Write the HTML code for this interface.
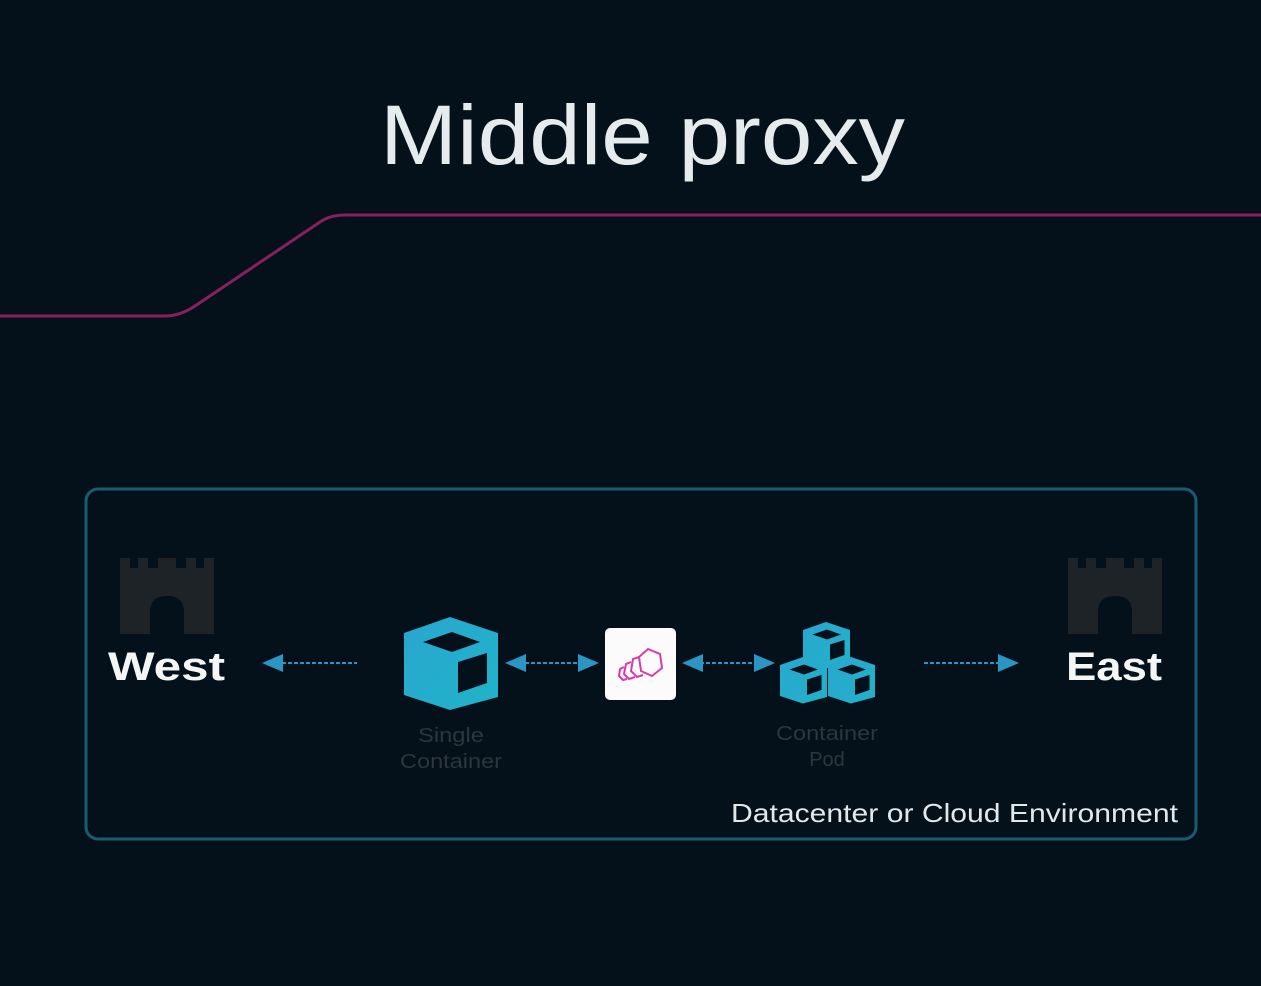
<!DOCTYPE html>
<html><head><meta charset="utf-8"><style>
html,body{margin:0;padding:0;background:#04111a;}
svg{display:block;}
</style></head><body>
<svg width="1261" height="986" viewBox="0 0 1261 986" xmlns="http://www.w3.org/2000/svg">
<defs>
<linearGradient id="cg" x1="0" y1="0" x2="1" y2="1"><stop offset="0" stop-color="#2aa6d0"/><stop offset="1" stop-color="#1fb3c8"/></linearGradient>
<g id="cube">
<path fill-rule="evenodd" fill="url(#cg)" d="M46,0 L94,16 L94,80 L46,93 L0,78 L0,16 Z M19,25 L48,15 L76,25 L48,35 Z M54,45 L83,36 L83,66 L54,76 Z"/>
</g>
<g id="castle" fill="#1d2327">
<path d="M0,0 h10 v10 h8 v-10 h10 v10 h10 v-10 h18 v10 h10 v-10 h10 v10 h8 v-10 h10 v76 h-30 v-22 q0,-16 -17,-16 q-17,0 -17,16 v22 h-30 Z"/>
</g>
</defs>
<rect width="1261" height="986" fill="#04111a"/>
<text x="380" y="164" textLength="525" lengthAdjust="spacingAndGlyphs" font-family="Liberation Sans, sans-serif" font-size="84" fill="#e6ecee">Middle proxy</text>
<path d="M0,316 L165,316 Q180,316 195,306 L320,222 Q330,215 345,215 L1261,215" fill="none" stroke="#8a1f5e" stroke-width="3"/>
<rect x="86" y="489" width="1110" height="350" rx="12" fill="none" stroke="#1b5b70" stroke-width="3"/>
<use href="#castle" x="120" y="558"/>
<use href="#castle" x="1068" y="558"/>
<text x="108" y="680" textLength="117" lengthAdjust="spacingAndGlyphs" font-family="Liberation Sans, sans-serif" font-weight="bold" font-size="40" fill="#f4f6f6">West</text>
<text x="1066" y="680" textLength="96" lengthAdjust="spacingAndGlyphs" font-family="Liberation Sans, sans-serif" font-weight="bold" font-size="40" fill="#f4f6f6">East</text>
<g stroke="#2b95c4" stroke-width="2" stroke-dasharray="4,2" fill="none">
<line x1="282" y1="663" x2="357" y2="663"/>
<line x1="525" y1="663" x2="580" y2="663"/>
<line x1="700" y1="663" x2="755" y2="663"/>
<line x1="924" y1="663" x2="1000" y2="663"/>
</g>
<g fill="#2b95c4">
<path d="M262,663 L283,654 L283,672 Z"/>
<path d="M505,663 L526,654 L526,672 Z"/>
<path d="M599,663 L578,654 L578,672 Z"/>
<path d="M682,663 L703,654 L703,672 Z"/>
<path d="M775,663 L754,654 L754,672 Z"/>
<path d="M1019,663 L998,654 L998,672 Z"/>
</g>
<use href="#cube" x="404" y="617"/>
<rect x="605" y="628" width="71" height="72" rx="5" fill="#fbfbfc"/>
<g fill="none" stroke="#d93aa8" stroke-width="2">
<path d="M648,649 L660,654 L662,668 L652,676 L641,671 L639,657 Z"/>
<path d="M639,657 L633,659 L631,671 L637,677 L643,675"/>
<path d="M631,662 L626,664 L624,674 L629,679 L635,677"/>
<path d="M624,667 L620,669 L619,676 L623,680 L627,679"/>
</g>
<g transform="translate(780,622) scale(0.5)">
<use href="#cube" x="46" y="0"/>
<use href="#cube" x="0" y="70"/>
<use href="#cube" x="96" y="70"/>
</g>
<g font-family="Liberation Sans, sans-serif" font-size="20" fill="#2c363c" text-anchor="middle">
<text x="451" y="742" textLength="66" lengthAdjust="spacingAndGlyphs">Single</text>
<text x="451" y="768" textLength="102" lengthAdjust="spacingAndGlyphs">Container</text>
<text x="827" y="740" textLength="102" lengthAdjust="spacingAndGlyphs">Container</text>
<text x="827" y="766">Pod</text>
</g>
<text x="731" y="822" textLength="447" lengthAdjust="spacingAndGlyphs" font-family="Liberation Sans, sans-serif" font-size="26" fill="#e2e8ea">Datacenter or Cloud Environment</text>
</svg>
</body></html>
